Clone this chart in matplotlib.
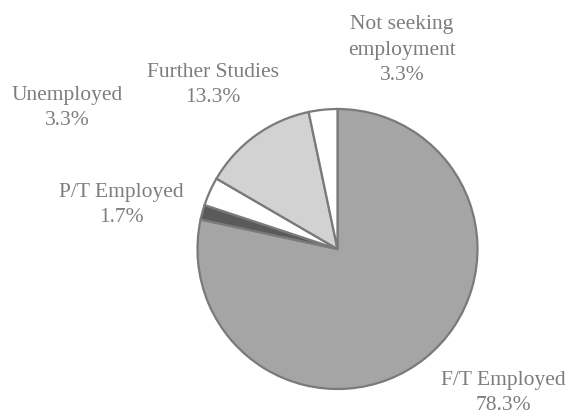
import matplotlib
matplotlib.use('Agg')
import matplotlib.pyplot as plt

labels = ['F/T Employed', 'P/T Employed', 'Unemployed', 'Further Studies',
          'Not seeking\nemployment']
shares = [78.3, 1.7, 3.3, 13.3, 3.3]
colours = ['#a5a5a5', '#5a5a5a', '#ffffff', '#d2d2d2', '#ffffff']

# label centres in figure pixels (x from left, y from top)
label_pos = [(503, 393), (121, 205), (67, 108), (213, 85), (402, 50)]

W, H = 571, 419
fig = plt.figure(figsize=(W / 100, H / 100), dpi=100)
cx, cy, r = 337.5, 249, 140
ax = fig.add_axes([(cx - r) / W, (H - cy - r) / H, 2 * r / W, 2 * r / H])

ax.pie(shares, colors=colours, startangle=90, counterclock=False,
       wedgeprops=dict(edgecolor='#7a7a7a', linewidth=1.6))
ax.set_aspect('auto')
ax.set_xlim(-1.0, 1.0)
ax.set_ylim(-1.0, 1.0)
ax.axis('off')

for name, value, (px, py) in zip(labels, shares, label_pos):
    fig.text(px / W, 1 - py / H, '%s\n%.1f%%' % (name, value),
             ha='center', va='center', fontsize=15.5, color='#7d7d7d',
             family=['Liberation Serif', 'DejaVu Serif'], linespacing=1.45)

plt.savefig('out.png', dpi=100)
plt.close(fig)
